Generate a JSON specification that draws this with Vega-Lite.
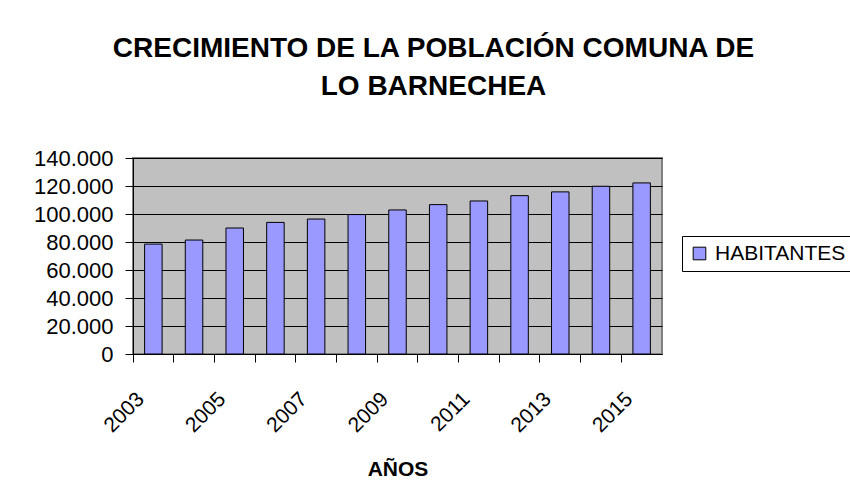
{
  "$schema": "https://vega.github.io/schema/vega-lite/v6.json",
  "autosize": "none",
  "width": 529,
  "height": 196,
  "padding": {"left": 133, "top": 158, "right": 188, "bottom": 134},
  "background": "white",
  "title": {
    "text": ["CRECIMIENTO DE LA POBLACIÓN COMUNA DE", "LO BARNECHEA"],
    "font": "Liberation Sans",
    "fontSize": 28,
    "fontWeight": "bold",
    "color": "black",
    "lineHeight": 38,
    "anchor": "middle",
    "dx": 36,
    "offset": 46
  },
  "data": {
    "values": [
      {"year": "2003", "habitantes": 78500, "serie": "HABITANTES"},
      {"year": "2004", "habitantes": 81400, "serie": "HABITANTES"},
      {"year": "2005", "habitantes": 90000, "serie": "HABITANTES"},
      {"year": "2006", "habitantes": 94000, "serie": "HABITANTES"},
      {"year": "2007", "habitantes": 96400, "serie": "HABITANTES"},
      {"year": "2008", "habitantes": 99600, "serie": "HABITANTES"},
      {"year": "2009", "habitantes": 102900, "serie": "HABITANTES"},
      {"year": "2010", "habitantes": 106700, "serie": "HABITANTES"},
      {"year": "2011", "habitantes": 109300, "serie": "HABITANTES"},
      {"year": "2012", "habitantes": 113100, "serie": "HABITANTES"},
      {"year": "2013", "habitantes": 115800, "serie": "HABITANTES"},
      {"year": "2014", "habitantes": 119800, "serie": "HABITANTES"},
      {"year": "2015", "habitantes": 122200, "serie": "HABITANTES"}
    ]
  },
  "mark": {"type": "bar", "width": {"band": 0.43}, "stroke": "black", "strokeWidth": 1},
  "encoding": {
    "x": {
      "field": "year",
      "type": "ordinal",
      "scale": {"paddingInner": 0, "paddingOuter": 0},
      "axis": {
        "title": "AÑOS",
        "bandPosition": 0,
        "labelAngle": -45,
        "labelAlign": "right",
        "labelBaseline": "top",
        "labelOffset": -20,
        "labelPadding": 26,
        "labelOverlap": false,
        "labelExpr": "toNumber(datum.value) % 2 == 1 ? datum.value : ''",
        "tickSize": 8,
        "tickColor": "black",
        "domainColor": "black",
        "grid": false,
        "labelFont": "Liberation Sans",
        "labelFontSize": 21,
        "labelColor": "black",
        "titleFont": "Liberation Sans",
        "titleFontSize": 21,
        "titleFontWeight": "bold",
        "titleColor": "black",
        "titlePadding": 23
      }
    },
    "y": {
      "field": "habitantes",
      "type": "quantitative",
      "scale": {"domain": [0, 140000], "nice": false},
      "axis": {
        "title": null,
        "values": [0, 20000, 40000, 60000, 80000, 100000, 120000, 140000],
        "labelExpr": "replace(format(datum.value, ','), ',', '.')",
        "grid": true,
        "gridColor": "black",
        "gridWidth": 1,
        "gridOpacity": 1,
        "tickSize": 8,
        "tickColor": "black",
        "domainColor": "black",
        "labelFont": "Liberation Sans",
        "labelFontSize": 22,
        "labelColor": "black",
        "labelPadding": 12
      }
    },
    "color": {
      "field": "serie",
      "type": "nominal",
      "scale": {"range": ["#9999FF"]},
      "legend": {
        "title": null,
        "orient": "none",
        "legendX": 549,
        "legendY": 78,
        "symbolType": "square",
        "symbolSize": 160,
        "symbolStrokeColor": "black",
        "symbolStrokeWidth": 1,
        "labelFont": "Liberation Sans",
        "labelFontSize": 21,
        "labelColor": "black",
        "labelOffset": 5,
        "labelLimit": 300,
        "strokeColor": "black",
        "padding": 7
      }
    }
  },
  "config": {
    "view": {"fill": "#C0C0C0", "stroke": "#808080", "strokeWidth": 2}
  }
}
